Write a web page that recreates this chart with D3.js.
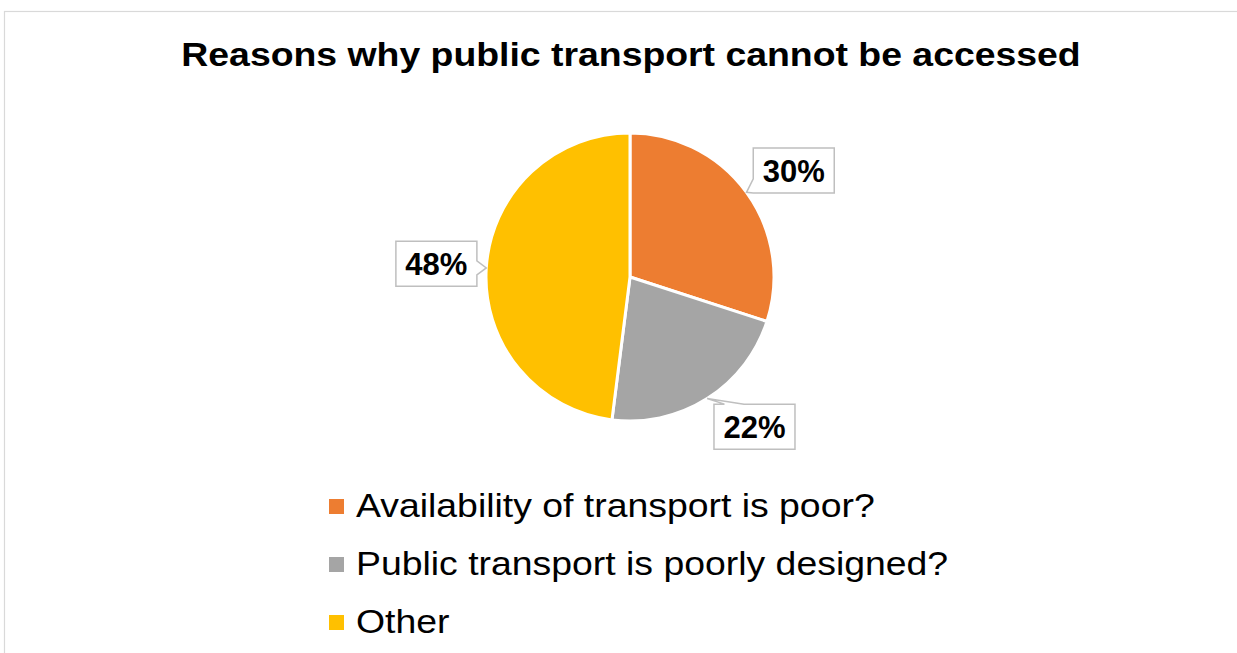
<!DOCTYPE html>
<html>
<head>
<meta charset="utf-8">
<script src="https://cdn.jsdelivr.net/npm/d3@7/dist/d3.min.js"></script>
<style>
  html, body { margin: 0; padding: 0; background: #ffffff; }
  svg { display: block; font-family: Arial, "Liberation Sans", Helvetica, sans-serif; }
</style>
</head>
<body>
<svg id="chart" width="1237" height="653"></svg>
<script>
// Survey answers: share of respondents per reason
const categories = [
  "Availability of transport is poor?",
  "Public transport is poorly designed?",
  "Other"
];
const shares = [30, 22, 48];
const sliceColors = ["#ED7D31", "#A5A5A5", "#FFC000"];
const titleText = "Reasons why public transport cannot be accessed";

// Small nudges for the callout boxes so they sit clear of the pie
const calloutNudge = [[6, 8], [20, -15], [1, -1]];

const W = 1237, H = 653;
const cx = 630, cy = 277, radius = 144;
const textStretch = 1.133; // wide-set heading and legend type

const svg = d3.select("#chart");

// chart area frame
svg.append("rect")
  .attr("x", 4.5).attr("y", 11.5)
  .attr("width", W + 10).attr("height", H + 10)
  .attr("fill", "#ffffff")
  .attr("stroke", "#D9D9D9").attr("stroke-width", 1.2);

// title
svg.append("text")
  .attr("transform", `translate(631,66) scale(${textStretch},1)`)
  .attr("text-anchor", "middle")
  .attr("font-size", 33).attr("font-weight", "bold")
  .attr("fill", "#000")
  .text(titleText);

const data = categories.map((c, i) => ({ name: c, value: shares[i], color: sliceColors[i], i }));

const pie = d3.pie().sort(null).value(d => d.value);
const arcs = pie(data);
const arc = d3.arc().innerRadius(0).outerRadius(radius);

const g = svg.append("g").attr("transform", `translate(${cx},${cy})`);

g.selectAll("path.slice")
  .data(arcs)
  .enter().append("path")
  .attr("class", "slice")
  .attr("d", arc)
  .attr("fill", d => d.data.color)
  .attr("stroke", "#ffffff")
  .attr("stroke-width", 3)
  .attr("stroke-linejoin", "round");

// data callouts
const boxW = 81, boxH = 45, boxR = 195;
const labelG = svg.append("g");

arcs.forEach((a, k) => {
  const mid = (a.startAngle + a.endAngle) / 2;
  const tip = [cx + radius * Math.sin(mid), cy - radius * Math.cos(mid)];
  const bc = [cx + boxR * Math.sin(mid) + calloutNudge[k][0],
              cy - boxR * Math.cos(mid) + calloutNudge[k][1]];
  const x0 = bc[0] - boxW / 2, x1 = bc[0] + boxW / 2;
  const y0 = bc[1] - boxH / 2, y1 = bc[1] + boxH / 2;

  // which side of the box faces the tip
  const rx = (tip[0] - bc[0]) / (boxW / 2);
  const ry = (tip[1] - bc[1]) / (boxH / 2);
  const hw = 7;
  const clamp = (v, lo, hi) => Math.max(lo, Math.min(hi, v));
  let pts;
  if (Math.abs(rx) >= Math.abs(ry)) {
    const by = clamp(tip[1], y0 + boxH * 0.25, y1 - hw);
    if (rx < 0) {
      pts = [[x0, y0], [x1, y0], [x1, y1], [x0, y1], [x0, by + hw], tip, [x0, by - hw]];
    } else {
      pts = [[x0, y0], [x1, y0], [x1, by - hw], tip, [x1, by + hw], [x1, y1], [x0, y1]];
    }
  } else {
    const bx = clamp(tip[0], x0 + boxW * 0.25, x1 - boxW * 0.25);
    if (ry < 0) {
      pts = [[x0, y0], [bx - hw * 1.4, y0], tip, [bx + hw * 1.4, y0], [x1, y0], [x1, y1], [x0, y1]];
    } else {
      pts = [[x0, y0], [x1, y0], [x1, y1], [bx + hw, y1], tip, [bx - hw, y1], [x0, y1]];
    }
  }

  labelG.append("path")
    .attr("d", d3.line()(pts) + "Z")
    .attr("fill", "#ffffff")
    .attr("stroke", "#BFBFBF")
    .attr("stroke-width", 1.5)
    .attr("stroke-linejoin", "miter");

  labelG.append("text")
    .attr("x", bc[0]).attr("y", bc[1] + 11.5)
    .attr("text-anchor", "middle")
    .attr("font-size", 31).attr("font-weight", "bold")
    .attr("fill", "#000")
    .text(a.data.value + "%");
});

// legend
const legendY = d3.scalePoint().domain(categories).range([517, 633]);
const legend = svg.append("g");
const items = legend.selectAll("g.item")
  .data(data)
  .enter().append("g")
  .attr("class", "item")
  .attr("transform", d => `translate(0,${legendY(d.name)})`);

items.append("rect")
  .attr("x", 329).attr("y", -18)
  .attr("width", 15).attr("height", 15)
  .attr("fill", d => d.color);

items.append("text")
  .attr("transform", `translate(356,0) scale(${textStretch},1)`)
  .attr("font-size", 33)
  .attr("fill", "#000")
  .text(d => d.name);
</script>
</body>
</html>
